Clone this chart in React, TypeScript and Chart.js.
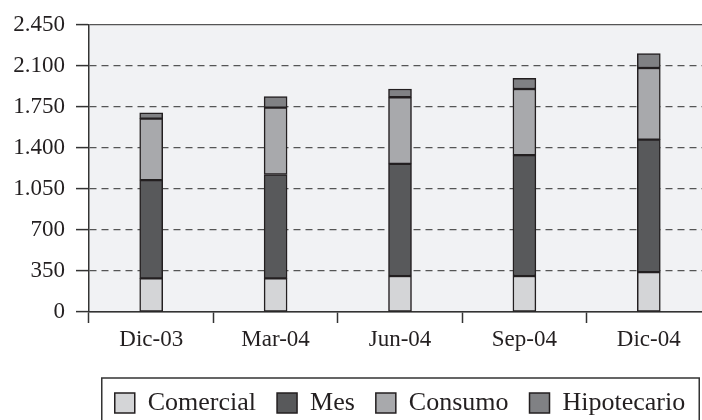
import React, { useEffect, useRef } from "react";
import { Chart, registerables } from "chart.js";

Chart.register(...registerables);

const categories = ["Dic-03", "Mar-04", "Jun-04", "Sep-04", "Dic-04"];
const comercial = [287, 287, 307, 307, 341];
const mes = [839, 887, 958, 1032, 1131];
const consumo = [525, 571, 568, 565, 611];
const hipotecario = [49, 94, 71, 91, 123];
const yTicks = [0, 350, 700, 1050, 1400, 1750, 2100, 2450];

const FONT = "'Liberation Serif', 'Times New Roman', serif";
const TEXT = "#231f20";
const AXIS = "#333333";

const fmt = (v: number) => String(v).replace(/\B(?=(\d{3})+(?!\d))/g, ".");

const bgPlugin = {
  id: "plotBg",
  beforeDraw(chart: any) {
    const { ctx, chartArea } = chart;
    ctx.save();
    ctx.fillStyle = "#f1f2f4";
    ctx.fillRect(chartArea.left, chartArea.top, chartArea.right - chartArea.left, chartArea.bottom - chartArea.top);
    ctx.restore();
  },
};

const legendBoxPlugin = {
  id: "legendBox",
  afterDraw(chart: any) {
    const lg = chart.legend;
    if (!lg || !lg.legendHitBoxes || !lg.legendHitBoxes.length) return;
    const hb = lg.legendHitBoxes;
    let l = Infinity, r = -Infinity, t = Infinity;
    hb.forEach((b: any) => {
      l = Math.min(l, b.left);
      r = Math.max(r, b.left + b.width);
      t = Math.min(t, b.top);
    });
    const { ctx } = chart;
    ctx.save();
    ctx.strokeStyle = AXIS;
    ctx.lineWidth = 1.5;
    ctx.strokeRect(l - 13, t - 12, r - l + 27, chart.height - (t - 12) + 10);
    ctx.restore();
  },
};

export default function App() {
  const ref = useRef<HTMLCanvasElement>(null);
  useEffect(() => {
    if (!ref.current) return;
    const seg = (label: string, data: number[], color: string) => ({
      label,
      data,
      backgroundColor: color,
      borderColor: TEXT,
      borderWidth: 1.5,
      borderSkipped: false,
      barThickness: 23,
    });
    const chart = new Chart(ref.current, {
      type: "bar",
      data: {
        labels: categories,
        datasets: [
          seg("Comercial", comercial, "#d4d5d7"),
          seg("Mes", mes, "#58595b"),
          seg("Consumo", consumo, "#a8a9ac"),
          seg("Hipotecario", hipotecario, "#808184"),
        ],
      },
      options: {
        animation: false,
        responsive: false,
        maintainAspectRatio: false,
        layout: { padding: { left: 0, right: 1, top: 25, bottom: 0 } },
        plugins: {
          tooltip: { enabled: false },
          legend: {
            position: "bottom",
            fullSize: false,
            labels: {
              font: { family: FONT, size: 26 },
              color: TEXT,
              boxWidth: 20,
              boxHeight: 20,
              padding: 21,
            },
          },
        },
        scales: {
          x: {
            stacked: true,
            offset: true,
            grid: {
              offset: true,
              drawOnChartArea: false,
              drawTicks: true,
              tickLength: 11,
              tickColor: AXIS,
              tickWidth: 1.5,
            },
            border: { display: true, color: AXIS, width: 1.5 },
            ticks: { font: { family: FONT, size: 23 }, color: TEXT, padding: 3 },
            afterFit: (s: any) => {
              s.height = 57;
            },
          },
          y: {
            stacked: true,
            min: 0,
            max: 2450,
            afterBuildTicks: (s: any) => {
              s.ticks = yTicks.map((v) => ({ value: v }));
            },
            grid: {
              color: "#555555",
              lineWidth: 1.2,
              drawTicks: true,
              tickLength: 13,
              tickColor: AXIS,
              tickWidth: 1.5,
            },
            border: {
              display: true,
              color: AXIS,
              width: 1.5,
              dash: (ctx: any) => (ctx.tick && (ctx.tick.value === 2450 || ctx.tick.value === 0) ? [] : [7, 5]),
            },
            ticks: {
              font: { family: FONT, size: 23 },
              color: TEXT,
              padding: 11,
              callback: (v: any) => fmt(Number(v)),
            },
            afterFit: (s: any) => {
              s.width = 89;
            },
          },
        },
      },
      plugins: [bgPlugin, legendBoxPlugin],
    });
    return () => chart.destroy();
  }, []);
  return (
    <div style={{ position: "absolute", left: 0, top: 0, width: 702, height: 420, overflow: "hidden", background: "#fff" }}>
      <canvas ref={ref} width={712} height={426} style={{ display: "block" }} />
    </div>
  );
}
